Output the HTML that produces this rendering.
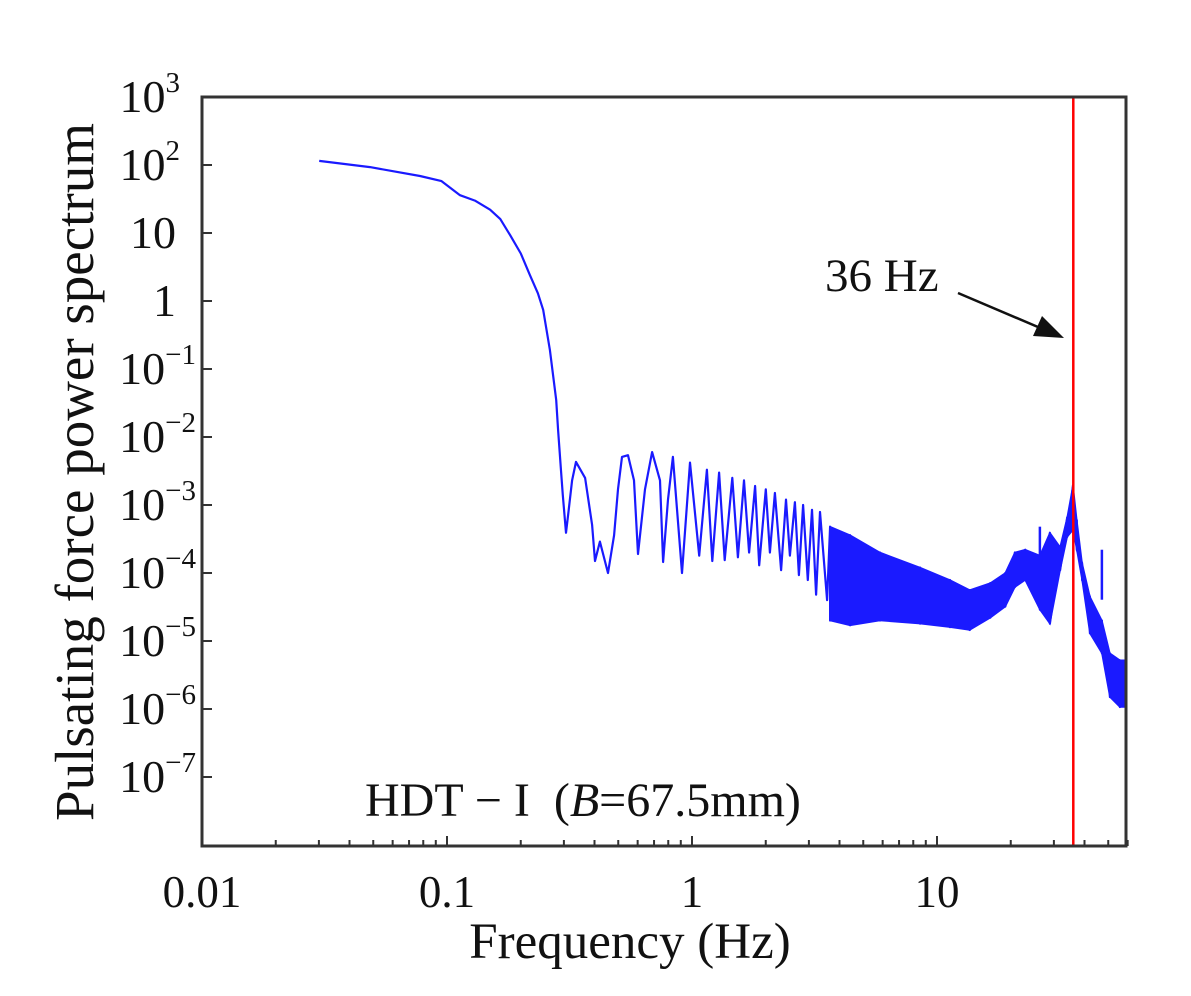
<!DOCTYPE html>
<html><head><meta charset="utf-8"><style>
body{margin:0;background:#fff;}
svg{display:block;font-family:"Liberation Serif",serif;}
</style></head><body>
<svg id="chart" width="1191" height="996" viewBox="0 0 1191 996"></svg>
<script>
// ---- data ----
const smoothFreq = [0.0301,0.0485,0.0776,0.095,0.113,0.130,0.150,0.165,0.181,0.200,0.218,0.235,0.247,0.263,0.279,0.284,0.292,0.297];
const smoothPower = [115,93,69,58,36,30,22,16,9.3,5,2.4,1.3,0.74,0.19,0.035,0.0126,0.0032,1.4e-3];
const oscFreq = [0.306,0.312,0.324,0.336,0.366,0.391,0.402,0.421,0.454,0.481,0.499,0.518,0.548,0.580,0.602,0.643,0.687,0.740,0.762,0.798,0.836,0.910,0.981,1.07,1.15,1.21,1.29,1.36,1.46,1.54,1.63,1.71,1.81,1.88,2.00,2.08,2.18,2.31,2.42,2.51,2.63,2.73,2.84,2.97,3.09,3.21,3.33,3.56];
const oscPower = [3.9e-4,7.1e-4,2.3e-3,4.3e-3,2.5e-3,5.1e-4,1.5e-4,2.9e-4,1.0e-4,3.6e-4,1.7e-3,5.1e-3,5.4e-3,2.3e-3,1.9e-4,1.7e-3,6.0e-3,2.3e-3,1.45e-4,1.2e-3,5.1e-3,1.0e-4,4.2e-3,1.8e-4,3.3e-3,1.5e-4,3.0e-3,1.55e-4,2.5e-3,1.7e-4,2.3e-3,2.0e-4,1.9e-3,1.3e-4,1.7e-3,2.0e-4,1.5e-3,1.1e-4,1.2e-3,1.8e-4,1.1e-3,9.3e-5,1.0e-3,7.9e-5,8.5e-4,4.8e-5,7.9e-4,4.0e-5];
const bandFreq = [3.66,4.42,5.85,8.53,11.3,13.6,16.5,19.0,20.8,22.9,26.3,28.9,31.8,34.0,35.9,37.2,39.1,42.1,47.1,50.8,55.8,59.0];
const bandUpper = [4.8e-4,3.6e-4,2.0e-4,1.2e-4,7.9e-5,5.6e-5,7.1e-5,1.0e-4,2.0e-4,2.2e-4,1.8e-4,3.9e-4,2.4e-4,6.6e-4,1.95e-3,6.0e-4,1.4e-4,4.5e-5,2.0e-5,6.6e-6,5.2e-6,5.2e-6];
const bandLower = [2.0e-5,1.7e-5,2.0e-5,1.8e-5,1.6e-5,1.45e-5,2.2e-5,3.2e-5,6.2e-5,7.9e-5,2.9e-5,1.8e-5,1.1e-4,3.4e-4,4.3e-4,2.2e-4,7.9e-5,1.3e-5,6.6e-6,1.5e-6,1.07e-6,1.07e-6];
const spikeFreq = [26.3,47.1];
const spikePower = [4.8e-4,2.2e-4];
const markerFreq = 36;
const xTickVals = [0.01,0.1,1,10];
const xTickLabels = ["0.01","0.1","1","10"];
const yTickExps = [3,2,1,0,-1,-2,-3,-4,-5,-6,-7];

// ---- axes ----
const L=202,R=1126,T=97,B=846;
const X = f => L + (Math.log10(f)+2)*245;
const Y = v => T + (3-Math.log10(v))*68;
const svg=document.getElementById('chart');
const NS='http://www.w3.org/2000/svg';
function mk(tag,attrs,parent){const e=document.createElementNS(NS,tag);for(const k in attrs)e.setAttribute(k,attrs[k]);(parent||svg).appendChild(e);return e;}

const defs=mk('defs',{});const cp=mk('clipPath',{id:'clip'},defs);mk('rect',{x:L,y:T,width:R-L,height:B-T},cp);
const plot=mk('g',{'clip-path':'url(#clip)'});



let d='';
smoothFreq.forEach((f,i)=>{d+=(i?'L':'M')+X(f).toFixed(1)+','+Y(smoothPower[i]).toFixed(1);});
oscFreq.forEach((f,i)=>{d+='L'+X(f).toFixed(1)+','+Y(oscPower[i]).toFixed(1);});
bandFreq.forEach((f,i)=>{d+='L'+X(f).toFixed(1)+','+Y(bandUpper[i]).toFixed(1)+'L'+X(f).toFixed(1)+','+Y(bandLower[i]).toFixed(1);});
const line=mk('path',{d:d,fill:'none',stroke:'#1a1aff','stroke-width':2.2,'stroke-linejoin':'round'},plot);



let bd='';
bandFreq.forEach((f,i)=>{bd+=(i?'L':'M')+X(f).toFixed(1)+','+Y(bandUpper[i]).toFixed(1);});
for(let i=bandFreq.length-1;i>=0;i--){bd+='L'+X(bandFreq[i]).toFixed(1)+','+Y(bandLower[i]).toFixed(1);}
bd+='Z';
const band=mk('path',{d:bd,fill:'#1a1aff',stroke:'#1a1aff','stroke-width':1.5},plot);


spikeFreq.forEach((f,i)=>{
  const s=mk('line',{x1:X(f),x2:X(f),y1:Y(spikePower[i]),y2:Y(spikePower[i])+50,stroke:'#1a1aff','stroke-width':2.5},plot);
  
  
});

const red=mk('line',{x1:X(markerFreq),x2:X(markerFreq),y1:T,y2:B,stroke:'#ff0000','stroke-width':2.5});



const frame=mk('rect',{x:L,y:T,width:R-L,height:B-T,fill:'none',stroke:'#333','stroke-width':3});



for(let dec=-2;dec<=1;dec++){for(let m=1;m<=9;m++){const f=m*Math.pow(10,dec);if(f>60)break;const x=X(f);
  const t=mk('line',{x1:x,x2:x,y1:B,y2:B-(m===1?10:6),stroke:'#333','stroke-width':2});
  
  }}
xTickVals.forEach((v,i)=>{const t=mk('text',{x:X(v),y:907,'text-anchor':'middle','font-size':45,fill:'#111'});t.textContent=xTickLabels[i];
  
  });

yTickExps.forEach(e=>{const y=Y(Math.pow(10,e));
  if(e<3){const t=mk('line',{x1:L,x2:L+10,y1:y,y2:y,stroke:'#333','stroke-width':2});
    
    }
  const tx=mk('text',{'text-anchor':'end','font-size':46,fill:'#111',y:y+15});
  
  
  if(e===0){tx.textContent='1';tx.setAttribute('x',176);}
  else if(e===1){tx.textContent='10';tx.setAttribute('x',176);}
  else{tx.textContent='10';const s=mk('tspan',{'font-size':29,dy:-20},tx);s.textContent=(e<0?'\u2212':'')+Math.abs(e);tx.setAttribute('x',e<0?196:180);}
});

const xt=mk('text',{x:630,y:958,'text-anchor':'middle','font-size':51,fill:'#111'});xt.textContent='Frequency (Hz)';


const yt=mk('text',{x:0,y:0,'text-anchor':'middle','font-size':55,fill:'#111',transform:'translate(93,472) rotate(-90)'});yt.textContent='Pulsating force power spectrum';



const ann=mk('text',{x:365,y:816,'font-size':48,fill:'#111'});


ann.innerHTML='HDT \u2212 I\u00a0 (<tspan font-style="italic">B</tspan>=67.5mm)';
const hz=mk('text',{x:825,y:291,'font-size':47,fill:'#111'});hz.textContent='36 Hz';


const ar=mk('line',{x1:958,y1:293,x2:1045,y2:330,stroke:'#111','stroke-width':2.5});


const ah=mk('polygon',{points:'1064,338 1033,336 1042,316',fill:'#111'});


</script>
</body></html>
